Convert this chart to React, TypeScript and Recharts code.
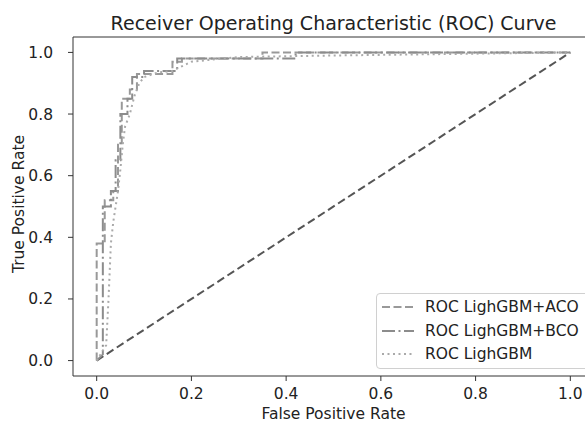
import { LineChart, Line, XAxis, YAxis, ReferenceLine } from 'recharts';

// ROC points (false positive rate / true positive rate)
const acoFpr = [0, 0, 0.017, 0.017, 0.035, 0.035, 0.045, 0.045, 0.053, 0.053, 0.07, 0.07, 0.085, 0.085, 0.16, 0.16, 0.18, 0.18, 0.35, 0.35, 1];
const acoTpr = [0, 0.38, 0.38, 0.52, 0.52, 0.55, 0.55, 0.7, 0.7, 0.85, 0.85, 0.88, 0.88, 0.93, 0.93, 0.97, 0.97, 0.98, 0.98, 1, 1];

const bcoFpr = [0, 0.013, 0.013, 0.03, 0.03, 0.04, 0.04, 0.05, 0.05, 0.065, 0.065, 0.075, 0.075, 0.1, 0.1, 0.17, 0.17, 0.42, 0.42, 1];
const bcoTpr = [0, 0.02, 0.5, 0.5, 0.55, 0.55, 0.65, 0.65, 0.8, 0.8, 0.85, 0.85, 0.92, 0.92, 0.94, 0.94, 0.98, 0.98, 1, 1];

const lgbFpr = [0, 0.02, 0.025, 0.03, 0.035, 0.04, 0.045, 0.05, 0.055, 0.06, 0.07, 0.08, 0.09, 0.1, 0.13, 0.16, 0.2, 0.3, 0.5, 1];
const lgbTpr = [0, 0.05, 0.2, 0.38, 0.45, 0.5, 0.55, 0.62, 0.7, 0.76, 0.8, 0.86, 0.9, 0.92, 0.935, 0.94, 0.97, 0.985, 0.99, 1];

const chanceFpr = [0, 1];
const chanceTpr = [0, 1];

const ticks = [0, 0.2, 0.4, 0.6, 0.8, 1.0];

const zip = (xs: number[], ys: number[]) => xs.map((x, i) => ({ x, y: ys[i] }));

const series = [
  { name: 'ROC LighGBM+ACO', data: zip(acoFpr, acoTpr), color: '#999999', dash: '8 3.5' },
  { name: 'ROC LighGBM+BCO', data: zip(bcoFpr, bcoTpr), color: '#8c8c8c', dash: '13 3.5 2 3.5' },
  { name: 'ROC LighGBM', data: zip(lgbFpr, lgbTpr), color: '#aaaaaa', dash: '2 3.5' },
];

const font = '"DejaVu Sans", sans-serif';
const tickStyle = { fontSize: 15.5, fill: '#222', fontFamily: font };

export default function App() {
  return (
    <div style={{ position: 'relative', width: 585, height: 423, overflow: 'hidden', background: '#fff', fontFamily: font }}>
      <style>{'body{margin:0}'}</style>
      <div style={{ position: 'absolute', left: 73, width: 521, top: 12, textAlign: 'center', fontSize: 19, lineHeight: '22px', color: '#222', whiteSpace: 'nowrap' }}>
        Receiver Operating Characteristic (ROC) Curve
      </div>
      <LineChart width={600} height={423} margin={{ top: 37, right: 6, bottom: 0, left: 0 }}>
        <XAxis
          dataKey="x"
          type="number"
          domain={[-0.05, 1.05]}
          ticks={ticks}
          tickFormatter={(v: number) => v.toFixed(1)}
          height={47}
          tickSize={5}
          tickMargin={7}
          tick={tickStyle}
          stroke="#333"
          allowDataOverflow
        />
        <YAxis
          dataKey="y"
          type="number"
          domain={[-0.05, 1.05]}
          ticks={ticks}
          tickFormatter={(v: number) => v.toFixed(1)}
          width={73}
          tickSize={5}
          tickMargin={15}
          tick={tickStyle}
          stroke="#333"
          allowDataOverflow
        />
        <ReferenceLine y={1.05} stroke="#333" strokeWidth={1} />
        <Line
          data={zip(chanceFpr, chanceTpr)}
          dataKey="y"
          type="linear"
          stroke="#555555"
          strokeWidth={2}
          strokeDasharray="8 4"
          dot={false}
          isAnimationActive={false}
        />
        {series.map((s) => (
          <Line
            key={s.name}
            name={s.name}
            data={s.data}
            dataKey="y"
            type="linear"
            stroke={s.color}
            strokeWidth={2}
            strokeDasharray={s.dash}
            dot={false}
            isAnimationActive={false}
          />
        ))}
      </LineChart>
      <div style={{ position: 'absolute', left: 73, width: 521, top: 405, textAlign: 'center', fontSize: 15.5, lineHeight: '18px', color: '#222' }}>
        False Positive Rate
      </div>
      <div
        style={{
          position: 'absolute', left: 19, top: 204, fontSize: 15.5, lineHeight: '18px', color: '#222',
          transform: 'translate(-50%, -50%) rotate(-90deg)', whiteSpace: 'nowrap',
        }}
      >
        True Positive Rate
      </div>
      <div
        style={{
          position: 'absolute', left: 376, top: 293, width: 230, height: 76, boxSizing: 'border-box',
          border: '1px solid #d0d0d0', borderRadius: 4, background: 'rgba(255,255,255,0.8)',
        }}
      >
        {series.map((s, i) => (
          <div key={s.name} style={{ position: 'absolute', left: 0, top: 3 + i * 23.7, height: 20, display: 'flex', alignItems: 'center' }}>
            <svg width={48} height={20} style={{ display: 'block' }}>
              <line x1={5} x2={37} y1={10} y2={10} stroke={s.color} strokeWidth={2} strokeDasharray={s.dash} />
            </svg>
            <span style={{ fontSize: 15.5, color: '#222', whiteSpace: 'nowrap' }}>{s.name}</span>
          </div>
        ))}
      </div>
    </div>
  );
}
